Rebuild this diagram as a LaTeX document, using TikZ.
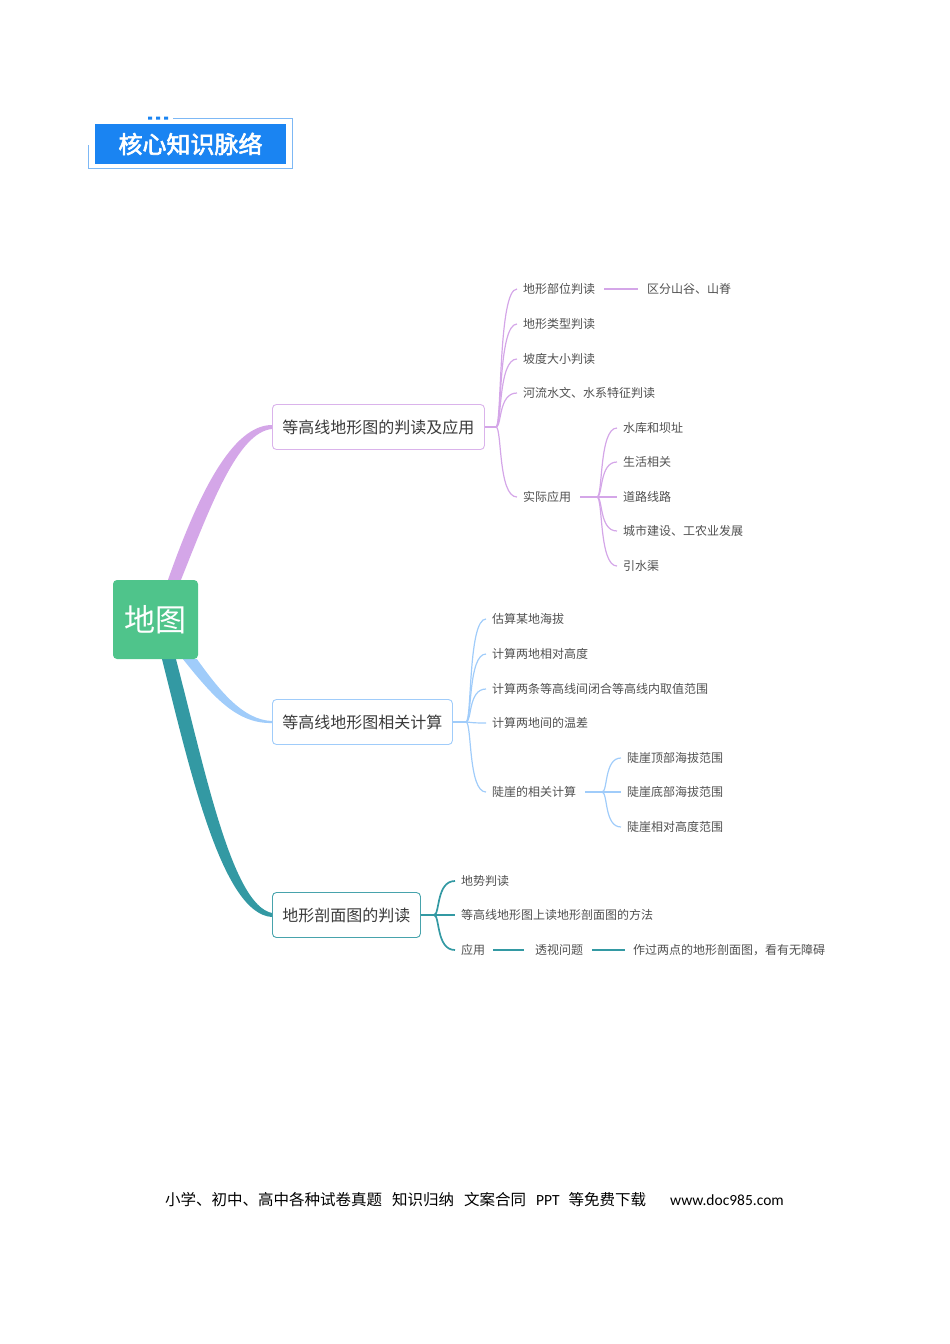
\documentclass[tikz,border=0pt]{standalone}
\usepackage{fontspec}
\newfontfamily\cjk[AutoFakeBold=2.5]{Noto Sans CJK SC}
\newfontfamily\calib{Carlito}
\usetikzlibrary{backgrounds,calc}
\definecolor{pcol}{HTML}{D4A6E8}
\definecolor{bcol}{HTML}{A0CCFA}
\definecolor{tcol}{HTML}{3399A3}
\definecolor{rootgreen}{HTML}{4FC48B}
\definecolor{hblue}{HTML}{1A84F2}
\definecolor{hline}{HTML}{7DB8F5}
\definecolor{txt}{HTML}{3A3A3A}
\definecolor{leaftxt}{HTML}{505050}
\tikzset{
  topic/.style={draw, rounded corners=4pt, line width=0.9pt, anchor=west, minimum height=45pt,
    inner xsep=10pt, text=txt, font=\cjk\fontsize{16}{19}\selectfont},
  leaf/.style={anchor=west, inner xsep=6pt, inner ysep=2pt, text=leaftxt, font=\cjk\fontsize{12}{14}\selectfont},
  twigp/.style={draw=pcol, line width=1.2pt},
  twigb/.style={draw=bcol, line width=1.2pt},
  twigt/.style={draw=tcol, line width=1.7pt}
}
\newcommand\fanout[3]{\foreach \c in {#3} \draw[#1] (#2) .. controls +(6,0) and ($(#2 |- \c.west)+(2,0)$) .. (\c.west);}
\begin{document}
\begin{tikzpicture}[x=1pt,y=-1pt]
\useasboundingbox (0,0) rectangle (950,1344);
\draw[hline, line width=1pt] (173,118) -| (292,168) -| (88,145);
\fill[hblue] (148,116.5) rectangle +(4,3) (156,116.5) rectangle +(4,3) (164,116.5) rectangle +(4,3);
\node[fill=hblue, minimum width=191pt, minimum height=40pt, inner sep=0pt, text=white,
  font=\cjk\bfseries\fontsize{24}{28}\selectfont] (title) at (190.5,144) {核心知识脉络};

\node[fill=rootgreen, rounded corners=4pt, minimum width=85pt, minimum height=79pt, text=white,
  font=\cjk\fontsize{31}{36}\selectfont] (root) at (155.5,619.5) {地图};

\node[topic, draw=pcol!85] (b1) at (272,427) {等高线地形图的判读及应用};
\node[topic, draw=bcol] (b2) at (272,722) {等高线地形图相关计算};
\node[topic, draw=tcol!90] (b3) at (272,915) {地形剖面图的判读};

\begin{pgfonlayer}{background}
\fill[pcol] ([xshift=12.5pt]root.north) .. controls +(30,-85) and +(-40,0) .. ($(b1.west)+(0,-2)$)
  -- ($(b1.west)+(0,2)$) .. controls +(-34,3) and +(30,-75) .. ([xshift=25.5pt]root.north) -- cycle;
\fill[bcol] ([xshift=41.5pt]root.south) .. controls +(21,29) and +(-30,-1) .. ($(b2.west)+(0,-1)$)
  -- ($(b2.west)+(0,1)$) .. controls +(-36,1) and +(29,36) .. ([xshift=27.5pt]root.south) -- cycle;
\fill[tcol] ([xshift=6.5pt]root.south) .. controls +(28,111) and +(-50,-3) .. ($(b3.west)+(0,2)$)
  -- ($(b3.west)+(0,-2)$) .. controls +(-40,-8) and +(29,111) .. ([xshift=20.5pt]root.south) -- cycle;
\end{pgfonlayer}

\coordinate (h1) at (496,427);
\node[leaf] (d1) at (517,289) {地形部位判读};
\node[leaf] (d2) at (517,324) {地形类型判读};
\node[leaf] (d3) at (517,359) {坡度大小判读};
\node[leaf] (d4) at (517,393) {河流水文、水系特征判读};
\node[leaf] (d5) at (517,497) {实际应用};
\node[leaf] (d1x) at (641,289) {区分山谷、山脊};
\coordinate (h5) at (597,497);
\node[leaf] (u1) at (617,428) {水库和坝址};
\node[leaf] (u2) at (617,462) {生活相关};
\node[leaf] (u3) at (617,497) {道路线路};
\node[leaf] (u4) at (617,531) {城市建设、工农业发展};
\node[leaf] (u5) at (617,566) {引水渠};
\draw[twigp] (b1.east) -- (h1);
\fanout{twigp}{h1}{d1,d2,d3,d4,d5}
\draw[twigp, shorten <=3pt, shorten >=3pt] (d1.east) -- (d1x.west);
\draw[twigp, shorten <=3pt] (d5.east) -- (h5);
\fanout{twigp}{h5}{u1,u2,u3,u4,u5}

\coordinate (h2) at (466,722);
\node[leaf] (k1) at (486,619) {估算某地海拔};
\node[leaf] (k2) at (486,654) {计算两地相对高度};
\node[leaf] (k3) at (486,689) {计算两条等高线间闭合等高线内取值范围};
\node[leaf] (k4) at (486,723) {计算两地间的温差};
\node[leaf] (k5) at (486,792) {陡崖的相关计算};
\coordinate (h6) at (602,792);
\node[leaf] (v1) at (621,758) {陡崖顶部海拔范围};
\node[leaf] (v2) at (621,792) {陡崖底部海拔范围};
\node[leaf] (v3) at (621,827) {陡崖相对高度范围};
\draw[twigb] (b2.east) -- (h2);
\fanout{twigb}{h2}{k1,k2,k3,k4,k5}
\draw[twigb, shorten <=3pt] (k5.east) -- (h6);
\fanout{twigb}{h6}{v1,v2,v3}

\coordinate (h3) at (434,915);
\node[leaf] (e1) at (455,881) {地势判读};
\node[leaf] (e2) at (455,915) {等高线地形图上读地形剖面图的方法};
\node[leaf] (e3) at (455,950) {应用};
\node[leaf] (e3a) at (529,950) {透视问题};
\node[leaf] (e3b) at (627,950) {作过两点的地形剖面图，看有无障碍};
\draw[twigt] (b3.east) -- (h3);
\fanout{twigt}{h3}{e1,e2,e3}
\draw[twigt, shorten <=2pt, shorten >=5pt] (e3.east) -- (e3a.west);
\draw[twigt, shorten <=3pt, shorten >=2pt] (e3a.east) -- (e3b.west);

\node[anchor=west, inner sep=0pt, text=black, font=\cjk\fontsize{15.5}{18}\selectfont] (foot) at (165,1200)
  {小学、初中、高中各种试卷真题\hspace{10pt}知识归纳\hspace{10pt}文案合同\hspace{10pt}{\calib PPT}\hspace{9pt}等免费下载};
\node[anchor=west, inner sep=0pt, text=black, font=\calib\fontsize{15.5}{18}\selectfont] (site) at (670,1200) {www.doc985.com};
\end{tikzpicture}
\end{document}
